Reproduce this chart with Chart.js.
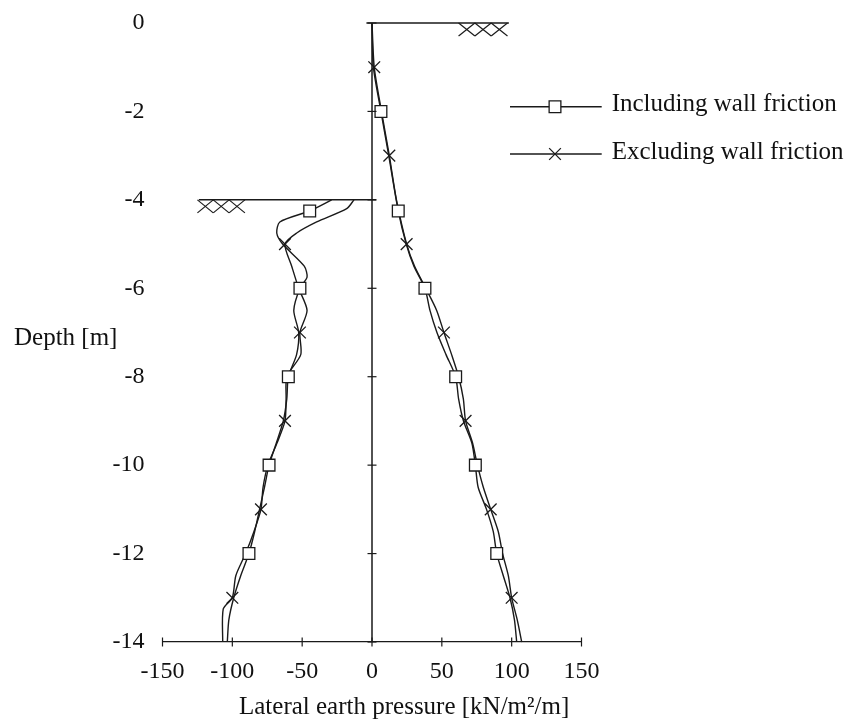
<!DOCTYPE html>
<html>
<head>
<meta charset="utf-8">
<script src="https://cdn.jsdelivr.net/npm/chart.js@4.4.1/dist/chart.umd.min.js"></script>
<style>
  html, body { margin: 0; padding: 0; background: #fff; }
  #wrap { width: 850px; height: 720px; position: relative; }
</style>
</head>
<body>
<div id="wrap"><canvas id="chartCanvas"></canvas></div>
<script>
// Depth [m] and lateral earth pressure [kN/m2/m] along the wall.
// Active side (retained soil, right of the wall)
const activeDepthIncl = [0, -1, -2, -3, -4.25, -5, -5.5, -6, -6.5, -7, -7.5, -8, -8.5, -9, -9.5, -10, -10.5, -11, -11.5, -12, -12.5, -13, -13.5, -14];
const activeIncl      = [0, 1, 6.4, 12, 18.8, 24.5, 30, 37.9, 41.5, 46.5, 53, 59.9, 62, 65.5, 71.5, 74, 76, 82, 86.8, 89.3, 94, 98.8, 102, 103.6];
const activeDepthExcl = [0, -1, -2, -3, -4, -5, -5.5, -6, -6.5, -7, -7.5, -8, -8.5, -9, -9.5, -10, -10.5, -11, -11.5, -12, -12.5, -13, -13.5, -14];
const activeExcl      = [0, 1.6, 6.8, 12.4, 17.5, 24.8, 30.5, 38.5, 46.3, 51.5, 57, 62, 65.4, 67, 72, 75.5, 79.7, 85, 90.4, 93.5, 97.6, 100, 104, 107.2];

// Passive side (below excavation level, left of the wall)
const passiveDepthIncl = [-4, -4.25, -4.5, -4.75, -5, -5.5, -5.75, -6, -6.5, -7, -7.5, -8, -8.5, -9, -9.5, -10, -10.5, -11, -11.5, -12, -12.5, -13, -13.5, -14];
const passiveIncl      = [-28.9, -44.6, -66, -68.2, -64, -48.5, -46.5, -51.6, -56, -52.5, -54, -59.9, -61, -63.5, -68.5, -73.7, -77, -80.5, -84, -88.1, -94, -99, -102.5, -103.6];
const passiveDepthExcl = [-4, -4.2, -4.5, -4.75, -5, -5.5, -6, -6.5, -7, -7.5, -8, -8.5, -9, -9.5, -10, -10.5, -11, -11.5, -12, -12.5, -13, -13.25, -14];
const passiveExcl      = [-12.9, -18.1, -39.6, -53.9, -62.3, -57.5, -52.5, -46.5, -51.6, -51, -61, -61.5, -62.3, -68, -74.5, -78, -79.5, -84.5, -90.5, -97.5, -100, -106.5, -106.9];

// depths carrying a marker
const markDepthsIncl = [-2, -4.25, -6, -8, -10, -12];
const markDepthsExcl = [-1, -3, -5, -7, -9, -11, -13];

// wall, ground surface and excavation level
const wallLine = [[0, 0], [0, -14]];
const surfaceLine = [[-4, 0], [98, 0]];
const excavationLine = [[-124, -4], [3, -4]];
// soil hatching: [from, to, level]
const hatchSpans = [[62, 97, 0], [-125, -91, -4]];

const xTicks = [-150, -100, -50, 0, 50, 100, 150];
const yTicks = [0, -2, -4, -6, -8, -10, -12, -14];

const seriesNames = ['Including wall friction', 'Excluding wall friction'];

const serif = '"Liberation Serif", "Times New Roman", serif';
const ink = '#1a1a1a';

function toPoints(depths, values) {
  return depths.map((d, i) => ({ x: values[i], y: d }));
}

function curve(depths, values, marks, style) {
  return {
    data: toPoints(depths, values),
    showLine: true,
    borderColor: ink,
    borderWidth: 1.4,
    tension: 0.25,
    pointStyle: style,
    pointRadius: (c) => (c.raw && marks.includes(c.raw.y) ? 8.3 : 0),
    pointBackgroundColor: '#fff',
    pointBorderColor: ink,
    pointBorderWidth: 1.3,
    clip: false
  };
}

function straight(pairs) {
  return {
    data: pairs.map(p => ({ x: p[0], y: p[1] })),
    showLine: true,
    borderColor: ink,
    borderWidth: 1.5,
    pointRadius: 0,
    clip: false
  };
}

const decorPlugin = {
  id: 'decor',
  afterDatasetsDraw(chart) {
    const { ctx, scales: { x, y } } = chart;
    const seg = (x0, y0, x1, y1) => {
      ctx.beginPath(); ctx.moveTo(x0, y0); ctx.lineTo(x1, y1); ctx.stroke();
    };
    ctx.save();
    ctx.strokeStyle = ink;
    ctx.lineWidth = 1.2;

    // tick marks crossing the x axis
    const yb = y.getPixelForValue(-14);
    xTicks.forEach(v => {
      const px = x.getPixelForValue(v);
      seg(px, yb - 4.5, px, yb + 4.5);
    });

    // tick marks crossing the wall
    const xw = x.getPixelForValue(0);
    yTicks.forEach(v => {
      const py = y.getPixelForValue(v);
      seg(xw - 4.5, py, xw + 4.5, py);
    });

    // soil hatching under the ground lines
    hatchSpans.forEach(([from, to, level]) => {
      const p0 = x.getPixelForValue(from);
      const p1 = x.getPixelForValue(to);
      const py = y.getPixelForValue(level);
      const w = (p1 - p0) / 3;
      for (let i = 0; i < 3; i++) {
        const a = p0 + i * w;
        seg(a, py, a + w, py + 13);
        seg(a + w, py, a, py + 13);
      }
    });

    // axis captions
    ctx.fillStyle = '#111';
    ctx.font = `25px ${serif}`;
    ctx.textAlign = 'left';
    ctx.textBaseline = 'middle';
    ctx.fillText('Depth [m]', 14, 338);
    ctx.fillText('Lateral earth pressure [kN/m\u00B2/m]', 239, 707);

    // legend: line with the series marker in the middle
    const rows = [106.7, 154];
    const s = 8.3 * Math.SQRT1_2;
    rows.forEach((ry, i) => {
      ctx.strokeStyle = ink;
      ctx.lineWidth = 1.4;
      seg(510, ry, 601.7, ry);
      const style = chart.data.datasets[i].pointStyle;
      ctx.lineWidth = 1.3;
      if (style === 'rect') {
        ctx.fillStyle = '#fff';
        ctx.beginPath();
        ctx.rect(555 - s, ry - s, 2 * s, 2 * s);
        ctx.fill();
        ctx.stroke();
      } else {
        seg(555 - s, ry - s, 555 + s, ry + s);
        seg(555 + s, ry - s, 555 - s, ry + s);
      }
      ctx.fillStyle = '#111';
      ctx.fillText(seriesNames[i], 611.7, ry - 2);
    });
    ctx.restore();
  }
};

const canvas = document.getElementById('chartCanvas');
new Chart(canvas.getContext('2d'), {
  type: 'scatter',
  data: {
    datasets: [
      curve(activeDepthIncl, activeIncl, markDepthsIncl, 'rect'),
      curve(activeDepthExcl, activeExcl, markDepthsExcl, 'crossRot'),
      curve(passiveDepthIncl, passiveIncl, markDepthsIncl, 'rect'),
      curve(passiveDepthExcl, passiveExcl, markDepthsExcl, 'crossRot'),
      straight(wallLine),
      straight(surfaceLine),
      straight(excavationLine)
    ]
  },
  options: {
    responsive: true,
    maintainAspectRatio: false,
    animation: false,
    layout: { padding: { top: 23, right: 268.5, bottom: 0, left: 0 } },
    plugins: {
      legend: { display: false },
      tooltip: { enabled: false }
    },
    scales: {
      x: {
        type: 'linear',
        min: -150,
        max: 150,
        afterBuildTicks: (scale) => { scale.ticks = xTicks.map(v => ({ value: v })); },
        ticks: {
          color: '#111',
          font: { family: serif, size: 24 },
          padding: 15,
          maxRotation: 0,
          autoSkip: false
        },
        grid: { display: false, drawTicks: false },
        border: { display: true, color: ink, width: 1.2 },
        afterFit: (scale) => {
          scale.height = 78;
          scale.paddingLeft = 0;
          scale.paddingRight = 0;
        }
      },
      y: {
        type: 'linear',
        min: -14,
        max: 0,
        afterBuildTicks: (scale) => { scale.ticks = yTicks.map(v => ({ value: v })); },
        ticks: {
          color: '#111',
          font: { family: serif, size: 24 },
          padding: 18,
          autoSkip: false
        },
        grid: { display: false, drawTicks: false },
        border: { display: false },
        afterFit: (scale) => {
          scale.width = 162.5;
          scale.paddingTop = 0;
          scale.paddingBottom = 0;
        }
      }
    }
  },
  plugins: [decorPlugin]
});
</script>
</body>
</html>
